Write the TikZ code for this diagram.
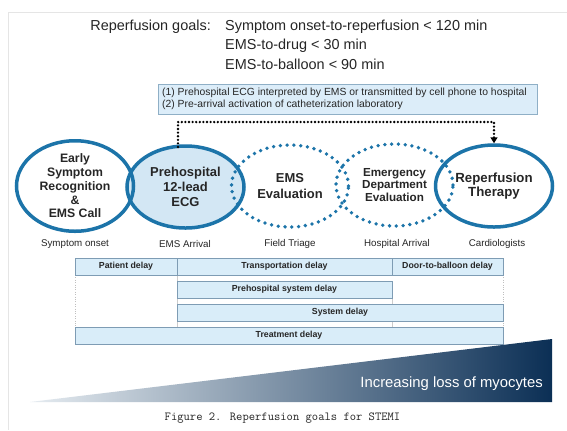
\documentclass[tikz,border=0pt]{standalone}
\usepackage{fontspec}
\setmainfont{Liberation Sans}
\usetikzlibrary{shapes.geometric,arrows.meta}
\definecolor{ringblue}{HTML}{1C74A9}
\definecolor{ecgfill}{HTML}{D3E7F4}
\definecolor{boxfill}{HTML}{DCEDF9}
\definecolor{boxline}{HTML}{8FAFC6}
\definecolor{cellfill}{HTML}{D9EDF9}
\definecolor{cellline}{HTML}{7E9CB4}
\definecolor{txtdark}{HTML}{262626}
\definecolor{triL}{HTML}{E6ECF1}
\definecolor{triM}{HTML}{7A92A8}
\definecolor{triR}{HTML}{0B2F55}
\begin{document}
\begin{tikzpicture}[x=1bp,y=-1bp,
  ring/.style={ellipse,draw=ringblue,line width=3.5bp,minimum width=117bp,minimum height=82bp,inner sep=0pt,align=center,text=txtdark},
  dotring/.style={ring,dash pattern=on 0pt off 6.8bp,line cap=round,line width=3.8bp},
  sublabel/.style={font=\fontsize{9.8}{11}\selectfont,text=txtdark,inner sep=0pt},
  goal/.style={font=\fontsize{14.5}{17}\selectfont,text=txtdark,inner sep=0pt,anchor=base west},
  cell/.style={draw=cellline,fill=cellfill,line width=0.6bp,inner sep=0pt,font=\bfseries\fontsize{8.8}{10}\selectfont,text=txtdark},
  dotline/.style={line width=2.6bp,dash pattern=on 0pt off 3.6bp,line cap=round,black},
  frame/.style={draw=black!10,line width=0.8bp}]
\useasboundingbox (0,0) rectangle (567,430);
\fill[white] (0,0) rectangle (567,430);
\draw[frame] (8,430) -- (8,12) -- (567,12);

% header
\node[goal,anchor=base east] (glabel) at (211,30) {Reperfusion goals:};
\node[goal] (g1) at (225,30) {Symptom onset-to-reperfusion < 120 min};
\node[goal] (g2) at (225,49.5) {EMS-to-drug < 30 min};
\node[goal] (g3) at (225,69) {EMS-to-balloon < 90 min};

% info box
\node[draw=boxline,fill=boxfill,line width=0.7bp,minimum width=379bp,minimum height=30bp,inner sep=0pt] (info) at (347.5,99) {};
\node[anchor=west,inner sep=0pt,align=left,font=\fontsize{10.4}{12}\selectfont,text=txtdark] (infotext) at (162,99)
 {(1) Prehospital ECG interpreted by EMS or transmitted by cell phone to hospital\\(2) Pre-arrival activation of catheterization laboratory};

% rings
\node[ring,fill=ecgfill,font=\bfseries\fontsize{13}{15}\selectfont] (ecg) at (185.5,187) {Prehospital\\12-lead\\ECG};
\node[ring,font=\bfseries\fontsize{12.3}{13.8}\selectfont] (early) at (75,186) {Early\\Symptom\\Recognition\\\&\\EMS Call};
\node[dotring,font=\bfseries\fontsize{13}{16}\selectfont] (ems) at (290,186) {EMS\\Evaluation};
\node[dotring,font=\bfseries\fontsize{11.7}{13}\selectfont] (ed) at (394.5,185) {Emergency\\Department\\Evaluation};
\node[ring,font=\bfseries\fontsize{13.3}{14.5}\selectfont] (rep) at (494,186) {Reperfusion\\Therapy};

% dotted connector
\coordinate (dstart) at (178,147);
\coordinate (bend) at (494,122);
\draw[dotline,-{Triangle[width=7bp,length=6bp]}] (dstart) |- (bend) -- (rep.north);

% labels under rings
\node[sublabel] (l1) at (75,244) {Symptom onset};
\node[sublabel] (l2) at (185,244) {EMS Arrival};
\node[sublabel] (l3) at (290,244) {Field Triage};
\node[sublabel] (l4) at (397,244) {Hospital Arrival};
\node[sublabel] (l5) at (497,244) {Cardiologists};

% table guide lines
\draw[black!25,line width=0.6bp,dash pattern=on 0.8bp off 1.6bp] (75,275) -- (75,327);
\draw[black!25,line width=0.6bp,dash pattern=on 0.8bp off 1.6bp] (503,275) -- (503,327);
\draw[black!20,line width=0.5bp] (177,275) -- (177,327);
\draw[black!20,line width=0.5bp] (392,298) -- (392,327);

% table cells
\node[cell,minimum width=102bp,minimum height=17bp] (pd) at (126,266.5) {Patient delay};
\node[cell,minimum width=215bp,minimum height=17bp] (td) at (284.5,266.5) {Transportation delay};
\node[cell,minimum width=111bp,minimum height=17bp] (db) at (447.5,266.5) {Door-to-balloon delay};
\node[cell,minimum width=215bp,minimum height=17bp] (psd) at (284.5,289.5) {Prehospital system delay};
\node[cell,minimum width=326bp,minimum height=17bp] (sd) at (340,312.5) {System delay};
\node[cell,minimum width=428bp,minimum height=17bp] (trd) at (289,335.5) {Treatment delay};

% myocyte triangle
\shade[left color=triL,middle color=triM,right color=triR] (30,402) -- (552,339) -- (552,402) -- cycle;
\node[anchor=base east,inner sep=0pt,text=white,font=\fontsize{14.9}{17}\selectfont] (myo) at (543,387) {Increasing loss of myocytes};

% caption
\node[inner sep=0pt,text=black!85,font=\ttfamily\fontsize{12.3}{14}\selectfont] (cap) at (282.5,418) {Figure 2. Reperfusion goals for STEMI};
\end{tikzpicture}
\end{document}
